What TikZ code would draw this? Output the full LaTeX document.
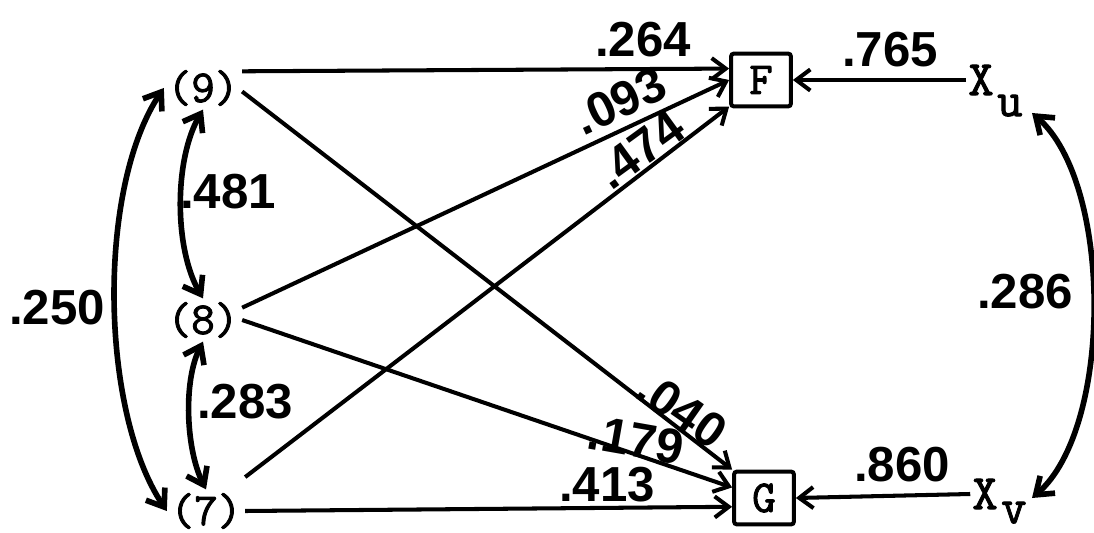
\documentclass[tikz,border=0pt]{standalone}
\usepackage{fontspec}
\newfontfamily\hand{Liberation Sans}
\newfontfamily\monob[FakeBold=2]{Latin Modern Mono}
\usetikzlibrary{arrows.meta}
\begin{document}
\begin{tikzpicture}[x=0.02cm,y=-0.02cm,
  var/.style={font=\monob\fontsize{26}{26}\selectfont, inner sep=2pt},
  box/.style={draw, line width=2.3pt, rounded corners=1.5pt, minimum width=34pt, minimum height=30pt, inner sep=0pt, font=\monob\fontsize{26}{26}\selectfont},
  ext/.style={font=\monob\fontsize{28}{28}\selectfont, inner sep=1pt},
  num/.style={font=\hand\bfseries\fontsize{28}{28}\selectfont, inner sep=0pt},
  eff/.style={line width=2.3pt, -{Straight Barb[length=8pt,width=12pt]}},
  cor/.style={line width=3.2pt, {Straight Barb[length=9pt,width=13pt]}-{Straight Barb[length=9pt,width=13pt]}}
]
\useasboundingbox (0,0) rectangle (1094,533);

% nodes
\node[var] (n9) at (203,88) {(9)};
\node[var] (n8) at (203,320) {(8)};
\node[var] (n7) at (206,511) {(7)};
\node[box] (F) at (761,80) {F};
\node[box] (G) at (764,498) {G};
\node[ext] (Xu) at (981,80) {X\rlap{\smash{\hspace{2pt}\raisebox{-12pt}{u}}}};
\node[ext] (Xv) at (985,494) {X\rlap{\smash{\hspace{2pt}\raisebox{-8pt}{v}}}};

% direct effects
\draw[eff] ([yshift=9.5pt]n9.east) -- ([yshift=6.5pt]F.west);
\draw[eff] ([yshift=7pt]n8.east) -- (F.west);
\draw[eff] ([yshift=7pt]n7.north east) -- ([yshift=1pt]F.south west);
\draw[eff] ([yshift=-2pt]n9.east) -- (G.north west);
\draw[eff] (n8.east) -- ([yshift=6pt]G.west);
\draw[eff] (n7.east) -- ([yshift=-5pt]G.west);
\draw[eff] (Xu.west) -- (F.east);
\draw[eff] (Xv.west) -- (G.east);

% correlations
\draw[cor] (n9.south) .. controls +(-29,50) and +(-29,-50) .. (n8.north);
\draw[cor] (n8.south) .. controls +(-20,40) and +(-20,-40) .. (n7.north);
\draw[cor] (n9.west) .. controls +(-67,100) and +(-67,-100) .. (n7.west);
\draw[cor] ([shift={(51,33)}]Xu.center) .. controls +(81,70) and +(81,-70) .. ([shift={(47,4)}]Xv.center);

% labels
\node[num] (l264) at (643,40) {.264};
\node[num,rotate=25] (l093) at (620,101) {.093};
\node[num,rotate=36] (l474) at (640,150) {.474};
\node[num] (l765) at (890,50) {.765};
\node[num,rotate=-35] (l040) at (682,410) {.040};
\node[num,rotate=-10] (l179) at (636,440) {.179};
\node[num] (l413) at (607,485) {.413};
\node[num] (l860) at (902,465) {.860};
\node[num] (l286) at (1025,292) {.286};
\node[num] (l250) at (57,308) {.250};
\node[num] (l481) at (228,192) {.481};
\node[num] (l283) at (245,402) {.283};
\end{tikzpicture}
\end{document}
